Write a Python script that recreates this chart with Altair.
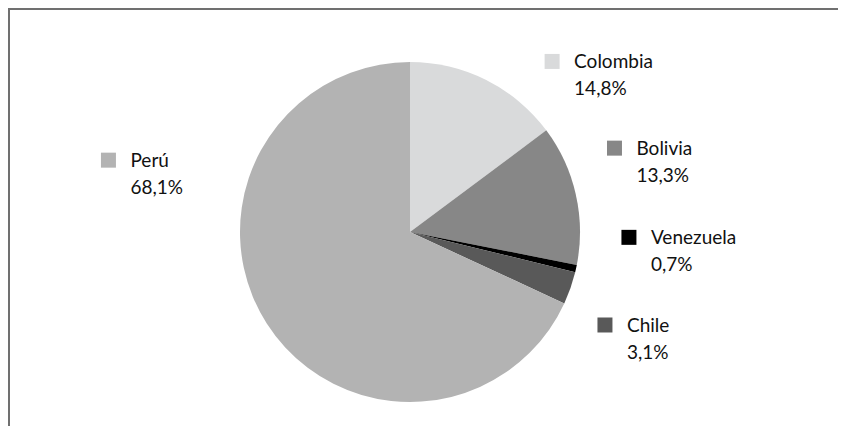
import math
import altair as alt
import pandas as pd

countries = ["Colombia", "Bolivia", "Venezuela", "Chile", "Perú"]
shares = [14.8, 13.3, 0.7, 3.1, 68.1]
share_labels = ["14,8%", "13,3%", "0,7%", "3,1%", "68,1%"]
colors = ["#d9dadb", "#878787", "#000000", "#595959", "#b3b3b3"]

# label anchor placement (degrees clockwise from top, distance from centre in px)
label_angle_deg = [39.8, 67.7, 91.4, 115.5, 283.4]
label_dist = [222, 221, 219, 216, 310]

CX, CY, R = 402, 224, 170
FONT = "Lato"
W, H = 830, 418

df = pd.DataFrame({
    "country": countries,
    "share": shares,
    "idx": list(range(len(countries))),
    "label": [f"{c}\n{s}" for c, s in zip(countries, share_labels)],
})
df["sx"] = [CX + r * math.sin(math.radians(a)) for a, r in zip(label_angle_deg, label_dist)]
df["sy"] = [CY - r * math.cos(math.radians(a)) for a, r in zip(label_angle_deg, label_dist)]

color = alt.Color("country:N", scale=alt.Scale(domain=countries, range=colors), legend=None)

pie = alt.Chart(df).mark_arc(outerRadius=R, stroke=None).encode(
    theta=alt.Theta("share:Q", stack=True),
    order=alt.Order("idx:Q"),
    color=color,
    x=alt.value(CX),
    y=alt.value(CY),
)

sw = alt.Chart(df).mark_square(size=225, opacity=1, filled=True).encode(
    x=alt.X("sx:Q", scale=None),
    y=alt.Y("sy:Q", scale=None),
    color=color,
)

txt = alt.Chart(df).mark_text(
    align="left", baseline="alphabetic", dx=22, dy=7,
    font=FONT, fontSize=19, lineBreak="\n", lineHeight=27, color="#111111",
).encode(
    x=alt.X("sx:Q", scale=None),
    y=alt.Y("sy:Q", scale=None),
    text="label:N",
)

frame = pd.DataFrame({"x1": [0, 0], "x2": [W, 2], "y1": [0, 0], "y2": [2, H]})
frame_bars = alt.Chart(frame).mark_rect(color="#707070", stroke=None).encode(
    x=alt.X("x1:Q", scale=None),
    x2="x2:Q",
    y=alt.Y("y1:Q", scale=None),
    y2="y2:Q",
)

chart = alt.layer(pie, sw, txt, frame_bars).properties(
    width=W, height=H,
    autosize=alt.AutoSizeParams(type="fit", contains="padding"),
    padding=0,
).configure_view(strokeWidth=0, stroke="transparent")

chart.save("out.html", embed_options={"renderer": "svg", "actions": False})
